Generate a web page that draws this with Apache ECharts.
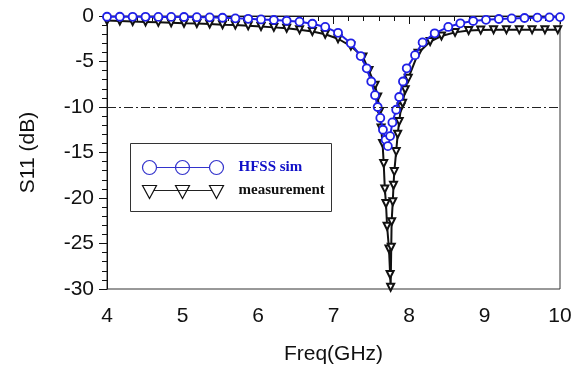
<!DOCTYPE html>
<html>
<head>
<meta charset="utf-8">
<script src="https://cdn.jsdelivr.net/npm/echarts@6/dist/echarts.min.js"></script>
<style>
html,body{margin:0;padding:0;background:#fff;}
#chart{width:586px;height:371px;}
</style>
</head>
<body>
<div id="chart"></div>
<script>
// HFSS simulation
const simFreq = [4.00,4.17,4.34,4.51,4.68,4.85,5.02,5.19,5.36,5.53,5.70,5.87,6.04,6.21,6.38,6.55,6.72,6.89,7.06,7.23,7.36,7.44,7.50,7.55,7.585,7.62,7.655,7.69,7.72,7.75,7.78,7.83,7.87,7.92,7.97,8.08,8.18,8.34,8.52,8.68,8.85,9.02,9.19,9.36,9.53,9.70,9.86,10.0];
const simS11  = [-0.08,-0.08,-0.09,-0.09,-0.10,-0.10,-0.11,-0.13,-0.15,-0.19,-0.26,-0.31,-0.38,-0.44,-0.52,-0.62,-0.85,-1.2,-1.85,-3.0,-4.4,-5.75,-7.2,-8.7,-10.0,-11.2,-12.5,-13.6,-14.3,-13.2,-11.7,-10.3,-8.9,-7.2,-5.75,-4.3,-2.9,-1.9,-1.2,-0.8,-0.55,-0.42,-0.33,-0.27,-0.22,-0.18,-0.15,-0.12];
// Measurement
const measFreq = [4.00,4.17,4.34,4.51,4.68,4.85,5.02,5.19,5.36,5.53,5.70,5.87,6.04,6.21,6.38,6.55,6.72,6.89,7.06,7.23,7.39,7.47,7.55,7.585,7.61,7.63,7.65,7.665,7.68,7.695,7.71,7.735,7.75,7.757,7.765,7.77,7.785,7.795,7.805,7.83,7.85,7.87,7.895,7.915,7.95,7.99,8.12,8.28,8.43,8.61,8.79,8.95,9.12,9.29,9.46,9.63,9.80,9.97];
const measS11  = [-0.5,-0.55,-0.6,-0.65,-0.7,-0.75,-0.8,-0.82,-0.88,-0.95,-1.0,-1.08,-1.15,-1.25,-1.35,-1.5,-1.7,-2.0,-2.5,-3.3,-4.5,-6.0,-7.6,-8.9,-10.5,-12.3,-14.0,-16.2,-19.0,-20.6,-23.1,-25.6,-28.4,-29.8,-25.4,-22.6,-20.4,-18.6,-17.1,-14.9,-13.0,-11.6,-10.0,-9.6,-8.1,-6.85,-4.1,-2.8,-2.2,-1.8,-1.6,-1.55,-1.5,-1.5,-1.5,-1.5,-1.5,-1.5];
const refLevel = -10;
const xName = 'Freq(GHz)';
const yName = 'S11 (dB)';
const simName = 'HFSS sim';
const measName = 'measurement';

const zip = (a,b) => a.map((v,i)=>[v,b[i]]);
const blue = '#2020e6';
const font = 'Liberation Sans, Arial, sans-serif';
const legendFont = 'bold 15px "Liberation Serif", "Times New Roman", serif';

const chart = echarts.init(document.getElementById('chart'), null, {renderer:'canvas'});
chart.setOption({
  animation:false,
  backgroundColor:'#fff',
  grid:{left:107,right:26,top:16,bottom:82,show:true,borderColor:'#333',borderWidth:1,backgroundColor:'transparent'},
  xAxis:{
    type:'value',min:4,max:10,interval:1,
    name:xName,nameLocation:'middle',nameGap:55,
    nameTextStyle:{fontFamily:font,fontSize:21,color:'#111'},
    axisLine:{lineStyle:{color:'#111',width:1}},
    axisTick:{show:true,length:8,inside:false,lineStyle:{color:'#111'}},
    minorTick:{show:true,splitNumber:5,length:5,lineStyle:{color:'#111'}},
    splitLine:{show:false},
    axisLabel:{fontFamily:font,fontSize:21,color:'#111',margin:17}
  },
  yAxis:{
    type:'value',min:-30,max:0,interval:5,
    name:yName,nameLocation:'middle',nameGap:68,
    nameTextStyle:{fontFamily:font,fontSize:21,color:'#111'},
    axisLine:{show:true,lineStyle:{color:'#111',width:1}},
    axisTick:{show:true,length:8,inside:false,lineStyle:{color:'#111'}},
    minorTick:{show:true,splitNumber:5,length:5,lineStyle:{color:'#111'}},
    splitLine:{show:false},
    axisLabel:{fontFamily:font,fontSize:21,color:'#111',margin:13}
  },
  series:[
    {
      name:measName,type:'line',data:zip(measFreq,measS11),
      symbol:'triangle',symbolRotate:180,symbolSize:7,
      lineStyle:{color:'#111',width:2},
      itemStyle:{color:'#fff',borderColor:'#111',borderWidth:2},
      z:3,
      markLine:{
        silent:true,symbol:'none',label:{show:false},
        lineStyle:{color:'#222',width:1,type:[9,3,2,3]},
        data:[{yAxis:refLevel}]
      }
    },
    {
      name:simName,type:'line',data:zip(simFreq,simS11),
      symbol:'circle',symbolSize:8,
      lineStyle:{color:blue,width:2},
      itemStyle:{color:'#fff',borderColor:blue,borderWidth:1.8},
      z:4
    }
  ],
  graphic:[
    {type:'group',left:130,top:143,children:[
      {type:'rect',shape:{x:0,y:0,width:201,height:68},style:{fill:'#fff',stroke:'#333',lineWidth:1}},
      {type:'line',shape:{x1:26,y1:24,x2:79,y2:24},style:{stroke:'#3333cc',lineWidth:1}},
      {type:'circle',shape:{cx:19,cy:24,r:7},style:{fill:'none',stroke:'#3333cc',lineWidth:1.2}},
      {type:'circle',shape:{cx:52,cy:24,r:7},style:{fill:'none',stroke:'#3333cc',lineWidth:1.2}},
      {type:'circle',shape:{cx:86,cy:24,r:7},style:{fill:'none',stroke:'#3333cc',lineWidth:1.2}},
      {type:'text',x:108,y:24,style:{text:simName,fill:'#1010c8',font:legendFont,textVerticalAlign:'middle'}},
      {type:'line',shape:{x1:19,y1:47,x2:86,y2:47},style:{stroke:'#222',lineWidth:1}},
      {type:'polygon',shape:{points:[[12,42],[26,42],[19,55]]},style:{fill:'#fff',stroke:'#111',lineWidth:1.2}},
      {type:'polygon',shape:{points:[[45,42],[59,42],[52,55]]},style:{fill:'none',stroke:'#111',lineWidth:1.2}},
      {type:'polygon',shape:{points:[[79,42],[93,42],[86,55]]},style:{fill:'#fff',stroke:'#111',lineWidth:1.2}},
      {type:'text',x:108,y:47,style:{text:measName,fill:'#111',font:legendFont,textVerticalAlign:'middle'}}
    ]}
  ]
});
</script>
</body>
</html>
